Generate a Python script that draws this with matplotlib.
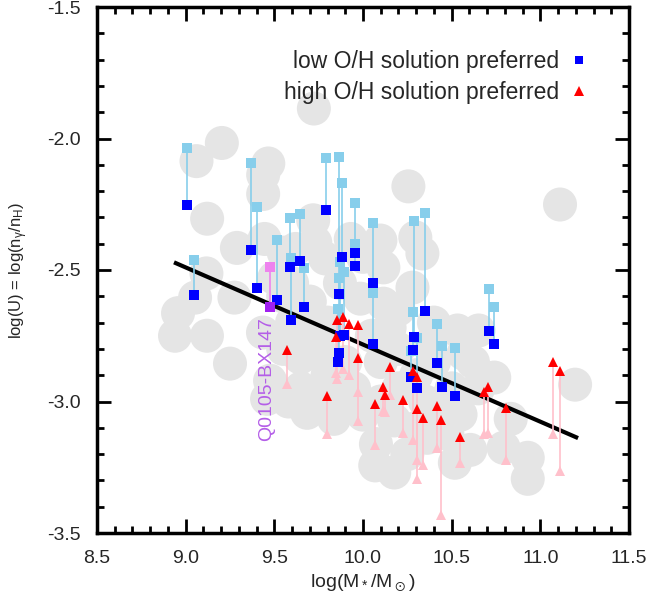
import matplotlib
matplotlib.use("Agg")
import matplotlib.pyplot as plt
from matplotlib.ticker import MultipleLocator
from matplotlib.lines import Line2D

plt.rcParams['font.family'] = ['Liberation Sans', 'DejaVu Sans']
plt.rcParams['mathtext.default'] = 'regular'
plt.rcParams['axes.unicode_minus'] = False

# comparison sample (grey discs)
gray_x = [9.723, 9.204, 9.061, 9.466, 9.437, 9.437, 10.256, 11.111, 9.121, 9.289,
          9.445, 9.719, 9.731, 9.553, 9.931, 10.098, 10.295, 10.335, 10.115, 10.279,
          9.787, 9.985, 10.115, 9.117, 9.053, 9.275, 8.957, 8.940, 9.120, 9.250,
          9.436, 9.476, 9.459, 9.685, 9.646, 9.836, 10.073, 10.176, 10.069, 10.176,
          10.362, 10.518, 10.605, 10.476, 10.740, 11.196, 10.833, 10.929, 10.929, 10.793,
          10.533, 10.652, 10.567, 9.60, 9.70, 9.80, 9.75, 9.60, 9.55, 9.65,
          9.80, 9.90, 9.95, 10.05, 10.10, 10.20, 10.20, 10.30, 10.35, 10.40,
          10.45, 10.50, 10.65, 10.45, 10.30, 10.25, 9.90, 10.00, 9.87, 10.20,
          10.40, 9.55, 9.58, 9.62, 9.50, 9.68, 10.00, 10.15, 10.38, 10.55,
          10.62, 9.78, 10.10]
gray_y = [-1.886, -2.017, -2.086, -2.095, -2.138, -2.211, -2.182, -2.251, -2.305, -2.416,
          -2.382, -2.311, -2.395, -2.434, -2.382, -2.388, -2.376, -2.437, -2.490, -2.567,
          -2.456, -2.609, -2.628, -2.513, -2.605, -2.605, -2.664, -2.750, -2.750, -2.856,
          -2.738, -2.921, -2.990, -3.043, -2.833, -3.066, -3.162, -3.072, -3.243, -3.270,
          -3.138, -3.233, -3.184, -3.123, -2.909, -2.936, -3.066, -3.214, -3.294, -3.176,
          -2.730, -2.730, -2.818, -2.55, -2.62, -2.70, -2.80, -2.70, -2.80, -2.95,
          -2.90, -2.85, -2.95, -2.75, -2.85, -2.80, -2.95, -2.90, -3.00, -2.85,
          -3.00, -2.95, -2.95, -3.10, -3.10, -3.20, -3.00, -3.05, -2.55, -2.65,
          -2.70, -2.60, -3.00, -2.42, -2.53, -2.72, -2.45, -2.72, -2.78, -3.05,
          -2.85, -2.98, -3.00]

# low O/H solution preferred: chosen value and alternative
low_x = [9.006, 9.045, 9.370, 9.403, 9.516, 9.589, 9.595, 9.646, 9.668, 9.794,
         9.863, 9.880, 9.953, 9.953, 10.054, 10.054, 10.290, 10.284, 10.273, 10.307,
         10.352, 10.417, 10.445, 10.518, 10.713, 10.737, 9.872, 9.895, 9.866, 9.860]
low_y = [-2.251, -2.595, -2.425, -2.568, -2.613, -2.489, -2.691, -2.466, -2.641, -2.271,
         -2.593, -2.450, -2.434, -2.484, -2.549, -2.780, -2.756, -2.803, -2.906, -2.948,
         -2.654, -2.853, -2.945, -2.978, -2.733, -2.780, -2.750, -2.747, -2.814, -2.849]
low_alt_y = [-2.036, -2.463, -2.095, -2.259, -2.387, -2.304, -2.453, -2.286, -2.493, -2.076,
             -2.069, -2.168, -2.244, -2.400, -2.320, -2.587, -2.313, -2.658, -2.807, -2.757,
             -2.285, -2.704, -2.789, -2.796, -2.572, -2.642, -2.468, -2.508, -2.529, -2.650]

# high O/H solution preferred: chosen value and alternative
high_x = [9.569, 9.796, 9.848, 9.856, 9.890, 9.919, 9.969, 9.969, 10.070, 10.113,
          10.123, 10.150, 10.227, 10.281, 10.302, 10.302, 10.338, 10.415, 10.439, 10.549,
          10.682, 10.706, 10.808, 11.071, 11.113]
high_y = [-2.805, -2.978, -2.753, -2.691, -2.680, -2.705, -2.711, -2.836, -3.010, -2.945,
          -2.975, -2.868, -2.995, -2.884, -2.908, -3.030, -3.063, -3.016, -3.072, -3.134,
          -2.964, -2.943, -3.026, -2.851, -2.884]
high_alt_y = [-2.932, -3.122, -2.892, -2.914, -2.876, -2.899, -2.965, -3.073, -3.165, -3.035,
              -3.040, -2.974, -3.118, -3.145, -3.224, -3.296, -3.241, -3.178, -3.430, -3.233,
              -3.125, -3.118, -3.221, -3.125, -3.263]

# Q0105-BX147
q_x = [9.476]
q_y = [-2.641]
q_alt_y = [-2.487]
q_name = 'Q0105-BX147'

# best-fit relation
fit_x = [8.945, 11.202]
fit_y = [-2.474, -3.136]

fig = plt.figure(figsize=(6.62, 6.15), dpi=100)
ax = fig.add_axes([97 / 662, 1 - 533 / 615, 532 / 662, 526 / 615])

ax.scatter(gray_x, gray_y, s=600, color='#e5e5e5', edgecolors='none', zorder=1)
ax.plot(fit_x, fit_y, color='black', lw=3, zorder=2)

ax.vlines(low_x, low_y, low_alt_y, color='skyblue', lw=1.2, zorder=3)
ax.vlines(high_x, high_y, high_alt_y, color='pink', lw=1.2, zorder=3)
ax.vlines(q_x, q_y, q_alt_y, color='violet', lw=1.2, zorder=3)

ax.plot(low_x, low_alt_y, 's', color='skyblue', ms=6.5, mew=0, zorder=4)
ax.plot(high_x, high_alt_y, '^', color='pink', ms=7, mew=0, zorder=4)
ax.plot(q_x, q_alt_y, 's', color='violet', ms=6.5, mew=0, zorder=4)
ax.plot(low_x, low_y, 's', color='blue', ms=6.5, mew=0, zorder=5)
ax.plot(high_x, high_y, '^', color='red', ms=7, mew=0, zorder=5)
ax.plot(q_x, q_y, 's', color='#a020f0', ms=6.5, mew=0, zorder=5)

ax.text(q_x[0] - 0.02, -2.913, q_name, rotation=90, ha='center', va='center',
        color='#b45ee8', fontsize=14, zorder=6)

handles = [Line2D([], [], ls='none', marker='s', color='blue', ms=6, mew=0),
           Line2D([], [], ls='none', marker='^', color='red', ms=6.5, mew=0)]
ax.legend(handles, ['low O/H solution preferred', 'high O/H solution preferred'],
          loc='upper right', bbox_to_anchor=(0.925, 0.918), frameon=False,
          markerfirst=False, fontsize=16.5, handlelength=0.85, handletextpad=0.45,
          labelspacing=0.35, borderaxespad=0, borderpad=0, labelcolor='#262626')

ax.set_xlim(8.5, 11.5)
ax.set_ylim(-3.5, -1.5)
ax.xaxis.set_major_locator(MultipleLocator(0.5))
ax.xaxis.set_minor_locator(MultipleLocator(0.1))
ax.yaxis.set_major_locator(MultipleLocator(0.5))
ax.yaxis.set_minor_locator(MultipleLocator(0.1))
ax.tick_params(which='both', direction='in', top=True, right=True, width=2,
               labelsize=14, labelcolor='#262626', pad=12)
ax.tick_params(which='major', length=10)
ax.tick_params(which='minor', length=5)
for sp in ax.spines.values():
    sp.set_linewidth(2.5)

ax.set_xlabel(r'log(M$_*$/M$_\odot$)', fontsize=14, color='#262626')
ax.set_ylabel(r'log(U) = log(n$_\gamma$/n$_H$)', fontsize=12, color='#262626',
              labelpad=12)

fig.savefig('out.png', dpi=100)
